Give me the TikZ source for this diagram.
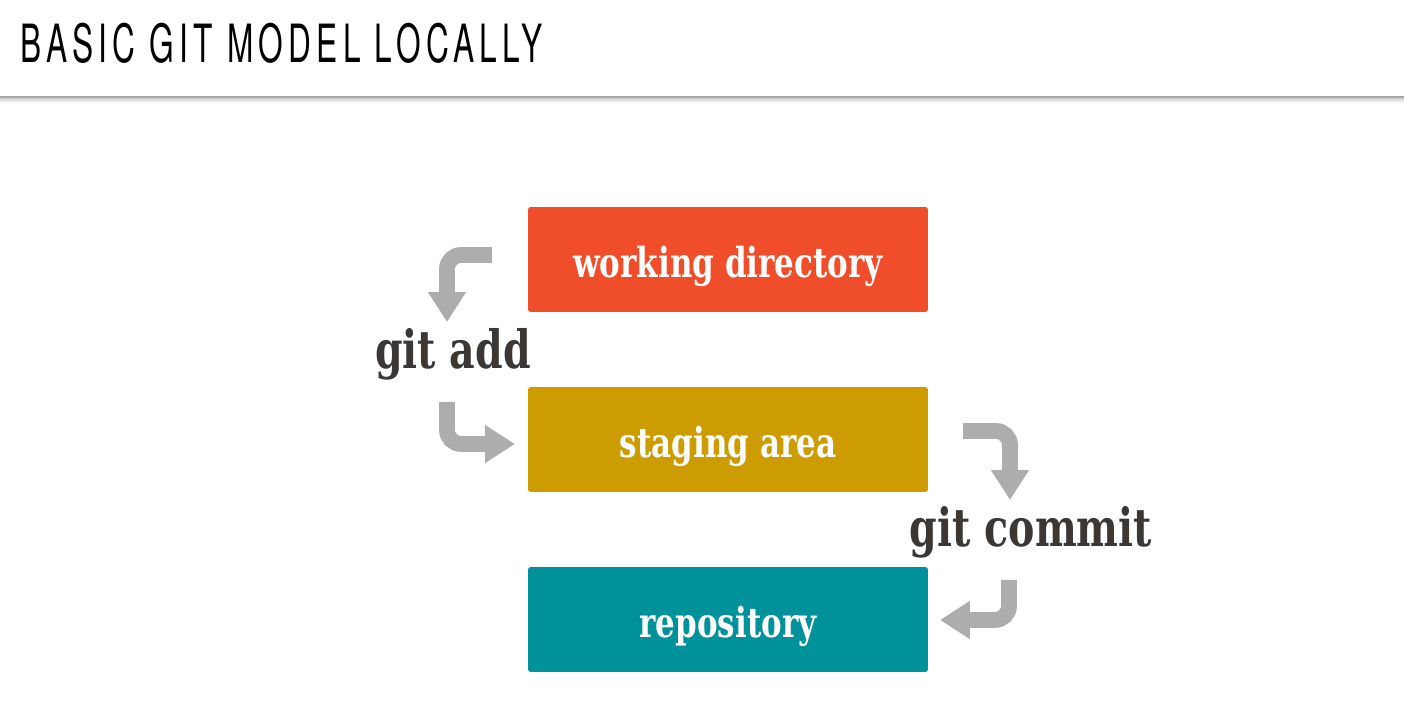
\documentclass[tikz,border=0pt]{standalone}
\usepackage{fontspec}
\newfontfamily\titlefont[FakeStretch=0.6,LetterSpace=10]{TeX Gyre Heros}
\newfontfamily\slabfont[FakeStretch=0.75]{DejaVu Serif}
\usetikzlibrary{arrows.meta,positioning}
\definecolor{workred}{HTML}{F04E2B}
\definecolor{stagegold}{HTML}{CC9C00}
\definecolor{repoteal}{HTML}{00919A}
\definecolor{arrowgray}{HTML}{ADADAD}
\definecolor{labelgray}{HTML}{3B3735}

\begin{document}
\begin{tikzpicture}[x=0.02cm, y=-0.02cm,
  area/.style={rectangle, rounded corners=1.5pt, minimum width=8cm, minimum height=2.1cm,
    inner sep=0pt, text height=20pt, text depth=0pt, text=white,
    font=\slabfont\bfseries\fontsize{23.5}{28}\selectfont},
  cmd/.style={anchor=base, inner sep=0pt, text=labelgray, font=\slabfont\bfseries\fontsize{30}{34}\selectfont},
  flow/.style={draw=arrowgray, line width=9pt, rounded corners=8pt, -{Triangle[width=20.5pt,length=17pt]}}]
\useasboundingbox (0,0) rectangle (1404,712);
% Header
\shade[top color=gray!45, bottom color=white] (0,97) rectangle (1404,103);
\draw[gray!70, line width=1pt] (0,97) -- (1404,97);
\node[anchor=base west, inner sep=0pt, font=\titlefont\fontsize{30}{34}\selectfont] (title) at (20,63) {BASIC GIT MODEL LOCALLY};

% Areas
\node[area, fill=workred] (work) at (728,259.5) {working directory};
\node[area, fill=stagegold] (stage) at (728,439.5) {staging area};
\node[area, fill=repoteal] (repo) at (728,619.5) {repository};

% Commands
\node[cmd] (add) at (453,369) {git add};
\node[cmd] (commit) at (1031,547) {git commit};

% Arrows
\coordinate (addin) at (492,255);   \coordinate (addmid) at (447,322);
\coordinate (addback) at (447,402); \coordinate (addout) at (515,444);
\coordinate (comin) at (963,431);   \coordinate (commid) at (1010,500);
\coordinate (comback) at (1009,580); \coordinate (comout) at (940,620);
\draw[flow] (addin) -| (addmid);
\draw[flow] (addback) |- (addout);
\draw[flow] (comin) -| (commid);
\draw[flow] (comback) |- (comout);
\end{tikzpicture}
\end{document}
